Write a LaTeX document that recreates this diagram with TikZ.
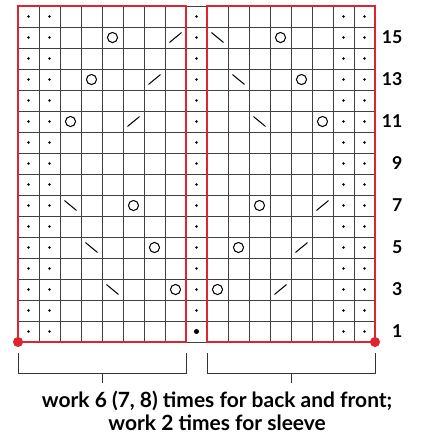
\documentclass[tikz,border=0pt]{standalone}
\usepackage{fontspec}
\setmainfont{Lato}
\definecolor{chartred}{RGB}{222,36,46}
\tikzset{
  gridline/.style={draw=black!75, line width=0.55pt},
  repbox/.style={draw=chartred, line width=1.6pt},
  yarnover/.style={draw=black, line width=0.7pt},
  decrease/.style={draw=black, line width=0.7pt, line cap=round},
  bracket/.style={draw=black!80, line width=0.6pt},
  rowno/.style={font=\bfseries\fontsize{12}{14}\selectfont, anchor=east},
}

\begin{document}
\begin{tikzpicture}[x=0.5cm, y=0.5cm]
\useasboundingbox (-0.857,-4.333) rectangle (19.19,16.286);
% chart grid
\draw[gridline] (0,0) grid[step=0.5cm] (17,16);
% purl columns
\foreach \c in {0,1,8,15,16}
  \foreach \r in {0,...,15}
    \fill (\c+0.5,\r+0.5) circle[radius=0.07];
\fill (8.5,0.5) circle[radius=0.12];
% yarn overs
\foreach \c/\r in {4/14,3/12,2/10,12/14,13/12,14/10,5/6,6/4,7/2,11/6,10/4,9/2}
  \draw[yarnover] (\c+0.5,\r+0.5) circle[radius=0.24];
% k2tog
\foreach \c/\r in {7/14,6/12,5/10,14/6,13/4,12/2}
  \draw[decrease] (\c+0.22,\r+0.27) -- (\c+0.78,\r+0.73);
% ssk
\foreach \c/\r in {9/14,10/12,11/10,2/6,3/4,4/2}
  \draw[decrease] (\c+0.22,\r+0.73) -- (\c+0.78,\r+0.27);
% repeats
\draw[repbox] (0,0) rectangle (8,16);
\draw[repbox] (9,0) rectangle (17,16);
\fill[chartred] (0,0) circle[radius=0.24];
\fill[chartred] (17,0) circle[radius=0.24];
% row numbers
\foreach \n in {1,3,...,15}
  \node[rowno] (row\n) at (18.55,\n-0.5) {\n};
% brackets
\coordinate (lbrk) at (4,-1.48);
\coordinate (rbrk) at (13,-1.48);
\draw[bracket] (0,-0.52) |- (8,-1.48) -- (8,-0.52);
\draw[bracket] (9,-0.52) |- (17,-1.48) -- (17,-0.52);
\draw[bracket] (lbrk) -- ++(0,-0.47);
\draw[bracket] (rbrk) -- ++(0,-0.47);
\node[font=\bfseries\fontsize{14.2}{15}\selectfont, align=center] (note) at (9.48,-3.28)
  {work 6 (7, 8) times for back and front;\\work 2 times for sleeve};
\end{tikzpicture}
\end{document}
